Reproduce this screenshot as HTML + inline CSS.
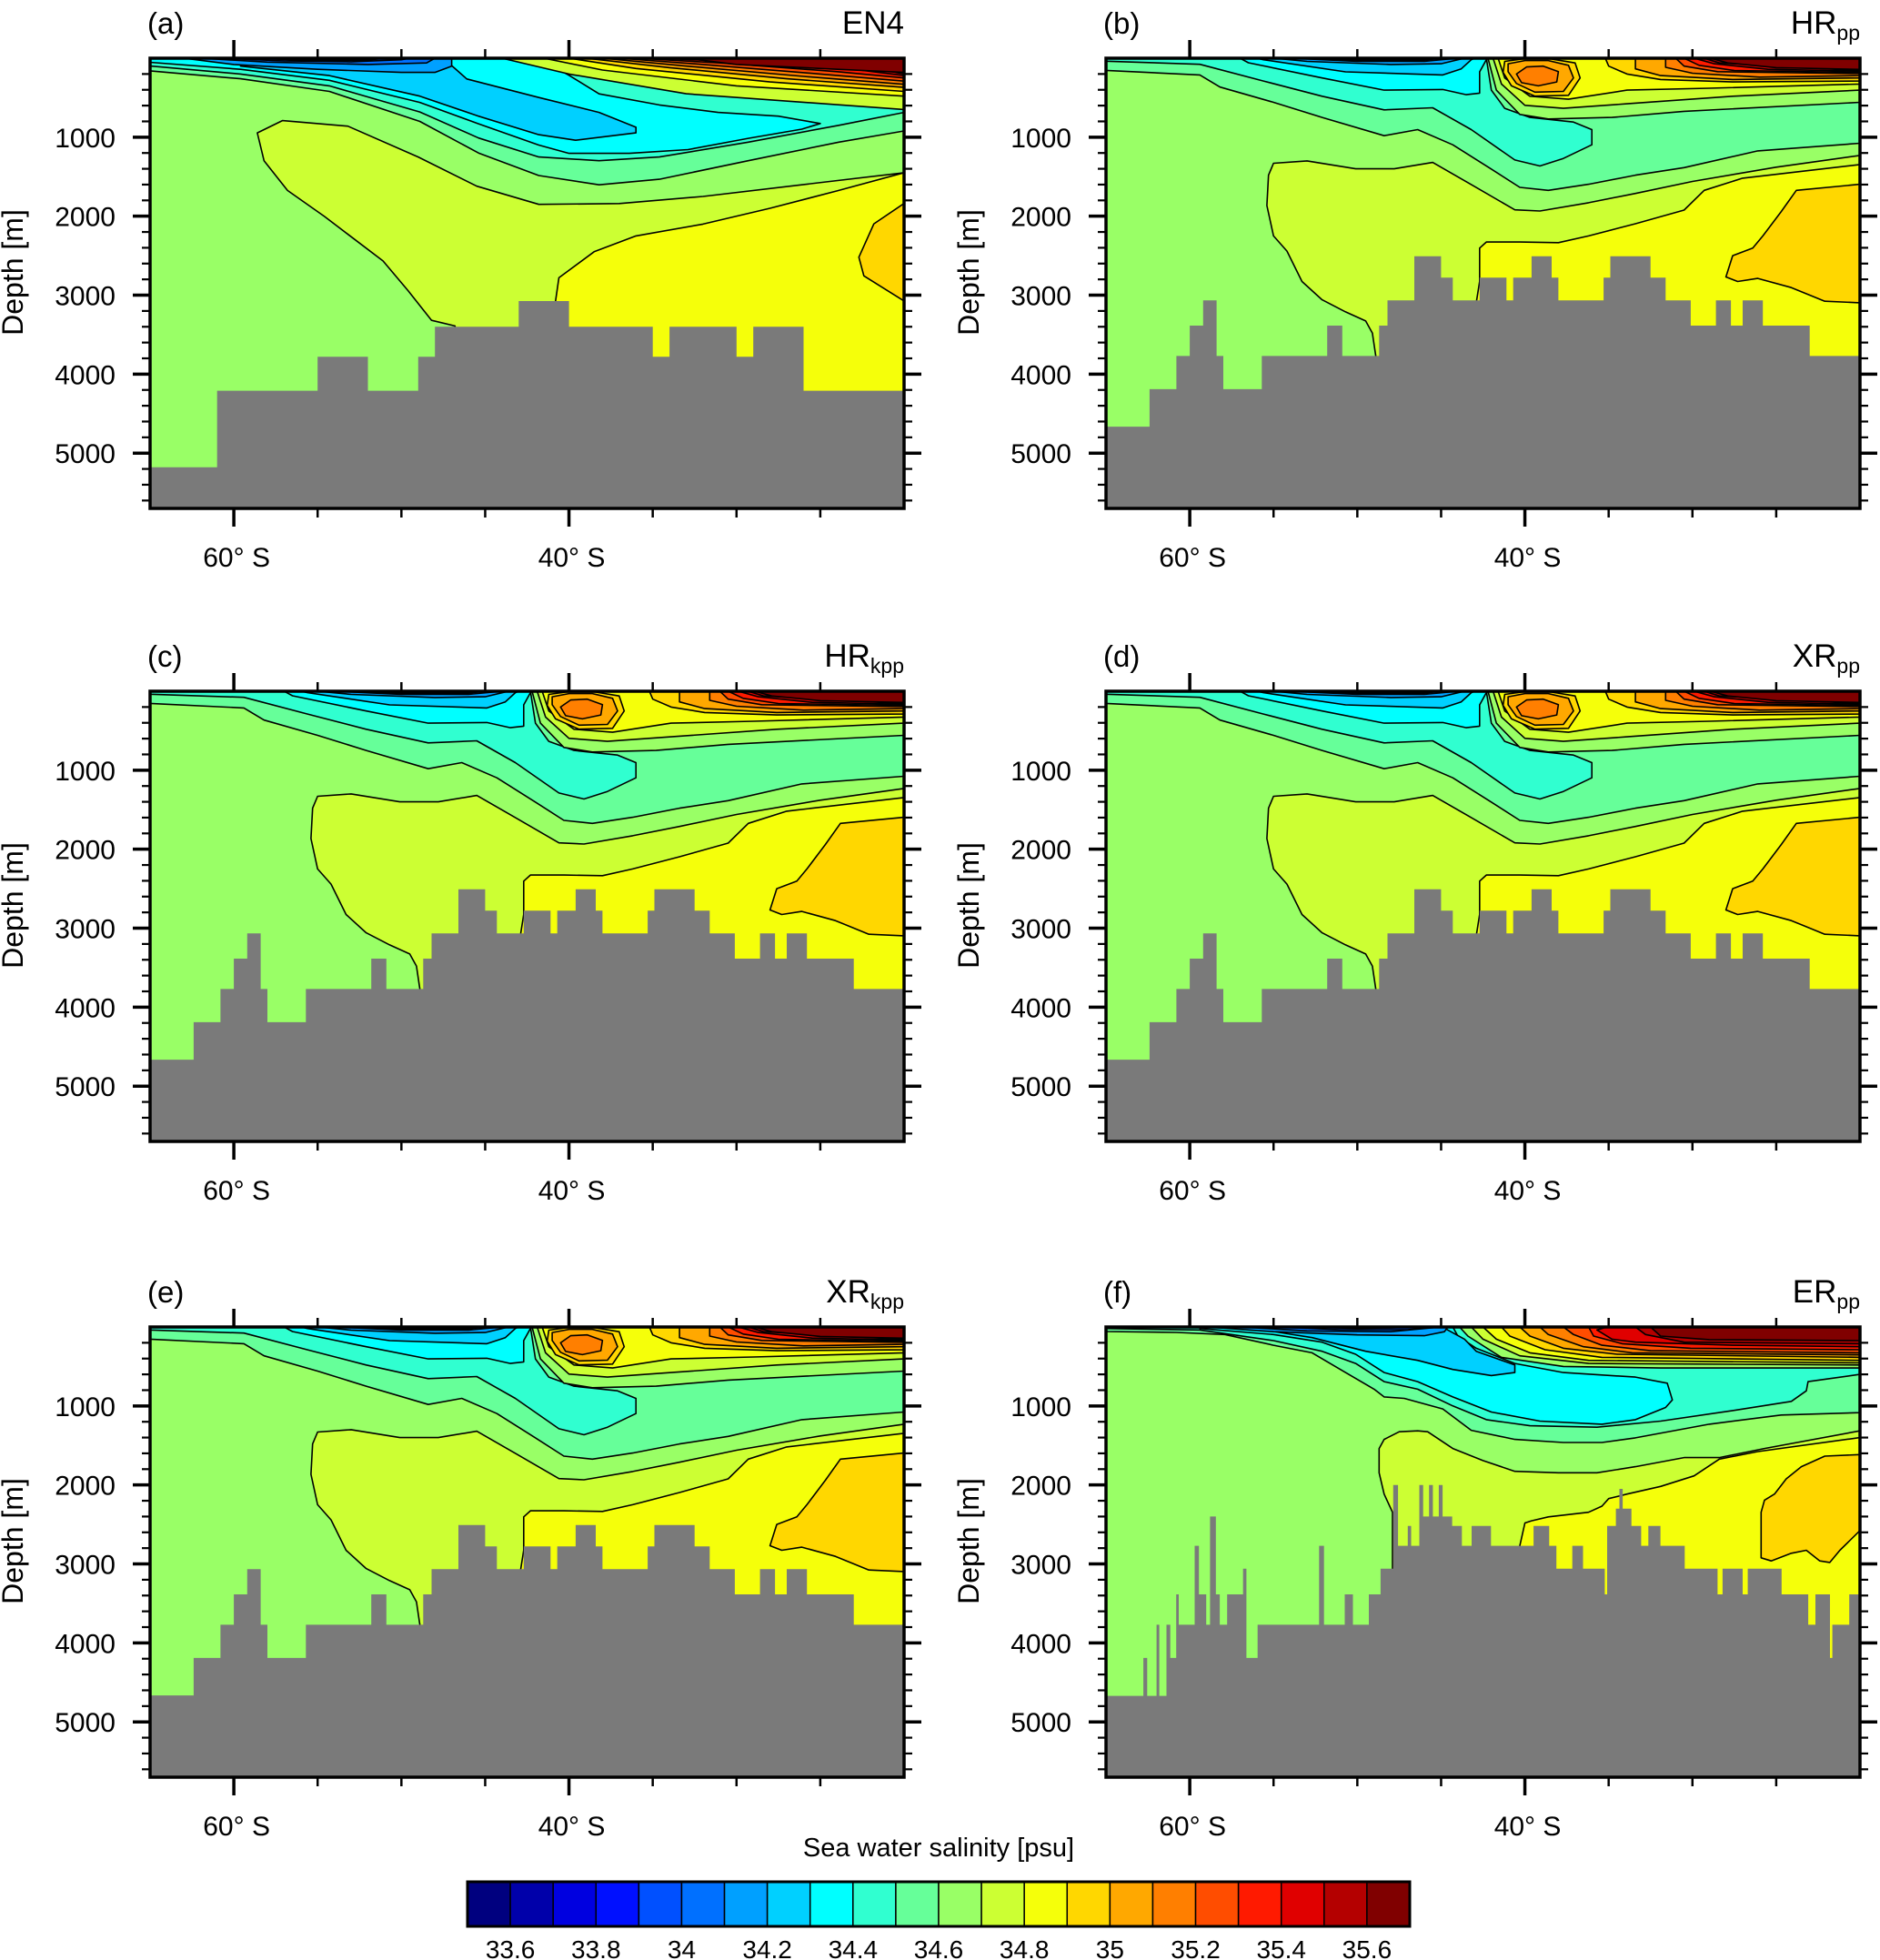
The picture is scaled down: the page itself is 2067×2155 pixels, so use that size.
<!DOCTYPE html>
<html><head><meta charset="utf-8"><title>Sea water salinity sections</title>
<style>
html,body{margin:0;padding:0;background:#fff;}
svg{display:block;font-family:"Liberation Sans",Arial,sans-serif;}
</style></head>
<body>
<svg id="fig" width="2067" height="2155" viewBox="0 0 2067 2155" xmlns="http://www.w3.org/2000/svg">
<rect x="0" y="0" width="2067" height="2155" fill="#ffffff"/>
</svg>
<script>
// ---- colour levels (colorbar) ----
const palette = ['#00007F','#0000AA','#0000E0','#0010FF','#0050FF','#0070FF','#00A0FF','#00D0FF','#00FFFF','#30FFD0','#66FF99','#99FF66','#CCFF33','#F5FF0A','#FFD700','#FFA800','#FF7F00','#FF4D00','#FF1A00','#E00000','#B40000','#800000'];
const levelLabels = ['33.6','33.8','34','34.2','34.4','34.6','34.8','35','35.2','35.4','35.6'];
const depthTicks = [1000,2000,3000,4000,5000];
const latLabelTicks = [60,40];
const latTicks = [60,55,50,45,40,35,30,25];

// ---- bathymetry (lat edges in deg S, depth in m) ----
const en4BathyEdges = [65,61,55,52,49,48,43,40,35,34,30,29,26,20];
const en4BathyDepth = [5180,4210,3780,4210,3780,3400,3075,3400,3780,3400,3780,3400,4210];
const hrBathyEdges = [65,62.4,60.8,60,59.2,58.4,58,55.7,51.8,50.9,48.7,48.2,46.6,45,44.3,42.7,41.1,40.7,39.6,38.4,38,35.3,34.9,32.5,31.6,30.1,28.6,27.7,27,25.8,23,20];
const hrBathyDepth = [4665,4190,3770,3385,3065,3770,4190,3770,3385,3770,3385,3065,2508,2777,3065,2777,3065,2777,2508,2777,3065,2777,2508,2777,3065,3385,3065,3385,3065,3385,3770];
const erBathyEdges = [65,62.77,62.54,61.98,61.82,61.39,61.16,60.81,60.66,59.71,59.45,59.02,58.79,58.44,58.21,57.77,56.82,56.62,55.95,52.28,51.99,50.75,50.26,49.31,48.61,47.86,47.57,46.99,46.79,46.30,46.07,45.72,45.49,45.14,44.91,44.34,43.76,43.18,42.02,40.87,39.48,38.55,38.12,37.17,36.53,35.23,35.09,34.57,34.36,34.16,33.64,33.06,32.63,31.91,30.46,30.03,28.5,28.2,27.0,26.7,25.84,24.68,23.09,22.66,21.79,21.65,20.64,20];
const erBathyDepth = [4670,4190,4670,3770,4670,3770,4190,3385,3770,2770,3385,3770,2400,3385,3770,3385,3060,4190,3770,2770,3770,3385,3770,3385,3060,2000,2770,2520,2770,2000,2400,2000,2400,2000,2400,2520,2770,2520,2770,2770,2520,2770,3060,2770,3060,3385,2520,2300,2050,2300,2520,2770,2520,2770,3060,3060,3385,3060,3385,3060,3060,3385,3770,3385,4190,3770,3385];

// ---- salinity regions [lat S, depth m], c = colour level index ----
const en4Layers = [
 {c:12, pts:[[58.6,945],[57.1,790],[53.2,860],[49,1250],[45.5,1620],[41.8,1850],[37,1840],[32,1750],[26,1600],[20,1450],[20,5700],[46.8,5700],[46.8,3390],[48.2,3319],[49.6,2943],[51.1,2567],[54.6,2003],[56.8,1674],[58.2,1298]]},
 {c:13, pts:[[40.8,3075],[40.6,2780],[38.5,2450],[36,2250],[32,2100],[28,1900],[24,1680],[20,1450],[20,5700],[40.8,5700]]},
 {c:14, pts:[[20,1838],[21.8,2097],[22.7,2520],[22.4,2755],[20,3075]]},
 {c:10, pts:[[65,0],[65,160],[59.6,260],[54.3,420],[48.9,800],[45.4,1200],[41.8,1486],[38.2,1603],[34.6,1533],[29.3,1298],[23.9,1063],[20,921],[20,0]]},
 {c:9, pts:[[65,0],[65,99],[59.6,200],[54.3,350],[48.9,680],[45.4,1010],[41.8,1250],[38.2,1298],[34.6,1250],[29.3,1063],[23.9,850],[20,686],[20,0]]},
 {c:8, pts:[[65,0],[65,52],[59.6,140],[54.3,280],[48.9,560],[45.4,830],[41.8,1100],[40,1204],[36.4,1204],[32.9,1157],[29.3,1015],[26.1,898],[25,827],[27.5,733],[31.1,686],[34.6,592],[38.2,451],[40,216],[41.8,0]]},
 {c:7, pts:[[59.6,0],[59.6,100],[54.3,220],[48.9,480],[45.4,733],[41.8,968],[39.6,1039],[36,945],[36,874],[38.2,686],[41.8,498],[46.1,263],[47.5,0]]},
 {c:6, pts:[[63,0],[60,80],[55,140],[50,180],[48,180],[47,100],[47,0]]},
 {c:5, pts:[[62,0],[58,50],[52,80],[48.5,60],[48,0]]},
 {c:4, pts:[[61,0],[57,35],[53,45],[50,20],[49.5,0]]},
 {c:3, pts:[[59,0],[56,25],[52,25],[51,0]]},
 {c:2, pts:[[58,0],[55,12],[53,0]]},
 {c:12, pts:[[44,0],[40,200],[33,450],[20,650],[20,0]]},
 {c:13, pts:[[41.5,0],[38,150],[30,350],[20,480],[20,0]]},
 {c:14, pts:[[40,0],[36,130],[28,300],[20,420],[20,0]]},
 {c:15, pts:[[39,0],[34,120],[27,260],[20,370],[20,0]]},
 {c:16, pts:[[38,0],[33,100],[26,230],[20,330],[20,0]]},
 {c:17, pts:[[37,0],[32,80],[25,200],[20,290],[20,0]]},
 {c:18, pts:[[36,0],[31,60],[24,170],[20,250],[20,0]]},
 {c:19, pts:[[35,0],[30,40],[23,140],[20,220],[20,0]]},
 {c:20, pts:[[34,0],[29,25],[22,120],[20,200],[20,0]]},
 {c:21, pts:[[33,0],[30,80],[25,130],[20,180],[20,0]]}
];
const hrLayers = [
 {c:12, pts:[[48.9,3769],[49.1,3481],[49.5,3327],[50.7,3212],[52.1,3058],[53.3,2827],[54.2,2442],[55.0,2250],[55.4,1865],[55.3,1481],[55,1330],[53,1300],[50.1,1400],[47.8,1400],[45.5,1320],[43.2,1600],[40.6,1920],[39.1,1935],[36.2,1830],[33.4,1712],[30,1560],[25,1380],[20,1231],[20,5700],[48.9,5700]]},
 {c:13, pts:[[42.9,3096],[42.7,2827],[42.7,2404],[42.3,2327],[40.3,2327],[38.0,2335],[36.2,2250],[33.4,2096],[30.5,1923],[29.3,1673],[27.0,1519],[20,1346],[20,5700],[42.9,5700]]},
 {c:14, pts:[[20,1596],[23.8,1673],[24.7,1942],[25.8,2250],[26.4,2404],[27.6,2500],[28.0,2769],[27.3,2827],[26.1,2788],[24.1,2904],[22.1,3077],[20,3096]]},
 {c:10, pts:[[65,0],[65,154],[59.4,212],[58.2,365],[55,558],[52.1,750],[48.4,981],[46.4,904],[44.3,1096],[42,1404],[40.3,1635],[38.6,1673],[36.2,1596],[33.4,1481],[30.5,1385],[26.1,1173],[20,1077],[20,0]]},
 {c:9, pts:[[65,0],[42.3,0],[42,404],[41.2,635],[39.7,750],[37.1,808],[36,904],[36,1096],[37.7,1269],[39.1,1365],[40.6,1288],[43.2,904],[45.5,627],[48.4,654],[52.1,481],[55.6,289],[59.4,77],[65,38]]},
 {c:8, pts:[[57,0],[56.5,58],[52.1,250],[48.4,404],[44.9,396],[43.5,462],[42.7,442],[42.7,173],[42.3,19],[42.2,0]]},
 {c:7, pts:[[56,0],[55.6,19],[50.7,173],[44.9,212],[43.8,135],[43.2,19],[43.0,0]]},
 {c:6, pts:[[55,0],[53,40],[48,80],[45,70],[43.6,0]]},
 {c:5, pts:[[54,0],[50,40],[46,40],[44,0]]},
 {c:3, pts:[[53,0],[50,25],[46,25],[45,0]]},
 {c:1, pts:[[52,0],[49,15],[46,0]]},
 {c:11, pts:[[42.2,0],[41.7,404],[40.3,712],[38.6,769],[34.8,750],[30.5,673],[20,558],[20,0]]},
 {c:12, pts:[[41.9,0],[41.4,327],[40.0,596],[37.7,635],[33.9,577],[27.6,481],[20,404],[20,0]]},
 {c:13, pts:[[41.6,0],[41.2,250],[39.7,481],[37.4,519],[33.9,404],[29,380],[20,327],[20,0]]},
 {c:14, pts:[[41.2,40],[40.2,10],[38.4,10],[37.0,60],[36.7,250],[37.4,470],[39.4,480],[40.8,350],[41.3,180]]},
 {c:14, pts:[[35.2,0],[35.0,100],[33.9,200],[31.9,270],[27.6,300],[20,289],[20,0]]},
 {c:15, pts:[[41.0,70],[40.0,30],[38.6,30],[37.4,90],[37.1,250],[37.7,420],[39.4,430],[40.5,320],[41.0,170]]},
 {c:15, pts:[[33.4,0],[33.4,135],[31.9,220],[27.6,270],[20,250],[20,0]]},
 {c:16, pts:[[40.5,200],[39.9,110],[38.9,100],[38.0,170],[38.1,300],[39.2,350],[40.2,310]]},
 {c:16, pts:[[31.6,0],[31.6,115],[30.0,190],[26,240],[20,220],[20,0]]},
 {c:17, pts:[[31.0,0],[30.5,100],[28.5,170],[20,196],[20,0]]},
 {c:18, pts:[[30.5,0],[29.6,90],[27.5,155],[20,180],[20,0]]},
 {c:19, pts:[[29.9,0],[28.7,70],[25.5,140],[20,165],[20,0]]},
 {c:20, pts:[[29.3,0],[28.4,60],[20,158],[20,0]]},
 {c:21, pts:[[28.9,0],[27.9,60],[25,120],[20,142],[20,0]]}
];
const erLayers = [
 {c:12, pts:[[47.9,2346],[48.4,2115],[48.7,1846],[48.7,1538],[48.4,1423],[47.5,1327],[46.4,1315],[45.8,1327],[44.3,1538],[42.5,1692],[40.6,1827],[38,1846],[35.7,1846],[33.4,1769],[30.5,1654],[28.4,1654],[25.7,1538],[20,1315],[20,5700],[47.9,5700]]},
 {c:13, pts:[[40.3,2769],[40.0,2481],[39.6,2454],[38.6,2404],[36.2,2346],[35.4,2269],[35,2173],[33.9,2115],[31.9,2019],[29.9,1885],[28.4,1673],[26.1,1577],[20,1400],[20,5700],[40.3,5700]]},
 {c:14, pts:[[20,1615],[22.1,1635],[23.5,1769],[24.4,1923],[25.1,2115],[25.7,2192],[25.9,2346],[25.9,2923],[25.3,2962],[24.1,2865],[23.2,2827],[22.4,2962],[21.8,2981],[21.2,2827],[20,2577]]},
 {c:10, pts:[[65,0],[65,58],[60.8,69],[57.9,96],[55,231],[52.7,327],[50.7,577],[49,788],[48.4,885],[47.2,904],[44.9,1038],[43.2,1308],[40.6,1423],[37.7,1462],[35.4,1462],[33.4,1404],[29,1231],[24.7,1115],[20,1085],[20,0]]},
 {c:9, pts:[[65,0],[65,19],[59.4,38],[55,173],[52.1,308],[50.1,462],[48.4,692],[46.4,788],[44.3,1000],[42.3,1173],[39.7,1250],[35.7,1269],[31.9,1192],[27.6,1058],[24.1,942],[23.2,808],[23.1,692],[20,600],[20,0]]},
 {c:8, pts:[[59.4,0],[59.4,19],[55,96],[52.1,192],[50.1,346],[48.4,577],[46.4,692],[44.3,885],[42,1077],[39.1,1192],[35.4,1231],[33.4,1173],[31.6,1019],[31.2,923],[31.5,712],[33.4,635],[37.7,577],[40.6,462],[42.9,269],[44.0,115],[44.3,0]]},
 {c:7, pts:[[56,0],[55,58],[52.7,135],[49.5,308],[46.4,423],[44.3,538],[42,615],[40.6,577],[40.6,481],[42.9,308],[43.6,154],[44.6,38],[44.9,0]]},
 {c:6, pts:[[59,0],[55,60],[50,100],[46,110],[44.8,60],[44.6,0]]},
 {c:5, pts:[[57,0],[53,50],[48,60],[45,0]]},
 {c:4, pts:[[55,0],[51,35],[47,35],[45.3,0]]},
 {c:3, pts:[[53,0],[50,20],[46,0]]},
 {c:1, pts:[[51,0],[48,12],[46.5,0]]},
 {c:11, pts:[[43.9,0],[43.4,115],[41.4,385],[37.7,500],[31.9,519],[20,519],[20,0]]},
 {c:12, pts:[[43.2,0],[42.5,154],[40.3,365],[36.2,462],[20,481],[20,0]]},
 {c:13, pts:[[42.5,0],[41.7,154],[39.7,327],[36.2,423],[20,454],[20,0]]},
 {c:14, pts:[[41.4,0],[40.9,115],[38.8,288],[35.4,385],[20,423],[20,0]]},
 {c:15, pts:[[40.3,0],[39.7,115],[37.7,269],[34.5,346],[20,385],[20,0]]},
 {c:16, pts:[[39.1,0],[38.6,96],[36.5,250],[33.6,327],[20,354],[20,0]]},
 {c:17, pts:[[37.7,0],[37.1,96],[35.4,231],[32.5,300],[20,327],[20,0]]},
 {c:18, pts:[[36.2,0],[35.9,115],[34.2,212],[30.1,269],[20,288],[20,0]]},
 {c:19, pts:[[35.1,0],[35.7,38],[34.8,154],[33.4,192],[27.6,231],[20,250],[20,0]]},
 {c:20, pts:[[33.4,0],[32.8,96],[30.5,192],[20,212],[20,0]]},
 {c:21, pts:[[32.5,0],[31.9,115],[29,160],[20,173],[20,0]]}
];

// ---- layout ----
const LAT_W = 65, LAT_E = 20, DMAX = 5700, PW = 829, PH = 495;
const panels = [
 {id:'a', x:165,  y:64,   layers:en4Layers, edges:en4BathyEdges, depth:en4BathyDepth, name:'EN4', sub:''},
 {id:'b', x:1216, y:64,   layers:hrLayers,  edges:hrBathyEdges,  depth:hrBathyDepth,  name:'HR',  sub:'pp'},
 {id:'c', x:165,  y:760,  layers:hrLayers,  edges:hrBathyEdges,  depth:hrBathyDepth,  name:'HR',  sub:'kpp'},
 {id:'d', x:1216, y:760,  layers:hrLayers,  edges:hrBathyEdges,  depth:hrBathyDepth,  name:'XR',  sub:'pp'},
 {id:'e', x:165,  y:1459, layers:hrLayers,  edges:hrBathyEdges,  depth:hrBathyDepth,  name:'XR',  sub:'kpp'},
 {id:'f', x:1216, y:1459, layers:erLayers,  edges:erBathyEdges,  depth:erBathyDepth,  name:'ER',  sub:'pp'}
];

const NS = 'http://www.w3.org/2000/svg';
const svg = document.getElementById('fig');
function mk(tag, attrs, parent){
  const el = document.createElementNS(NS, tag);
  for (const k in attrs) el.setAttribute(k, attrs[k]);
  parent.appendChild(el);
  return el;
}
const defs = mk('defs', {}, svg);

panels.forEach(p => {
  const xs = s => p.x + (LAT_W - s) / (LAT_W - LAT_E) * PW;
  const ys = d => p.y + d / DMAX * PH;
  const g = mk('g', {}, svg);
  
  

  const cp = mk('clipPath', {id:'clip-' + p.id}, defs);
  mk('rect', {x:p.x, y:p.y, width:PW, height:PH}, cp);
  const plot = mk('g', {'clip-path':'url(#clip-' + p.id + ')'}, g);
  
  

  const base = mk('rect', {x:p.x, y:p.y, width:PW, height:PH, fill:palette[11]}, plot);
  
  

  p.layers.forEach(L => {
    const d = 'M' + L.pts.map(q => xs(q[0]).toFixed(1) + ',' + ys(q[1]).toFixed(1)).join('L') + 'Z';
    const path = mk('path', {d:d, fill:palette[L.c], stroke:'#000', 'stroke-width':1.6, 'stroke-linejoin':'round'}, plot);
    
    
  });

  let bd = 'M' + xs(p.edges[0]) + ',' + ys(DMAX);
  for (let i = 0; i < p.depth.length; i++) {
    bd += 'L' + xs(p.edges[i]).toFixed(1) + ',' + ys(p.depth[i]).toFixed(1);
    bd += 'L' + xs(p.edges[i+1]).toFixed(1) + ',' + ys(p.depth[i]).toFixed(1);
  }
  bd += 'L' + xs(p.edges[p.edges.length-1]) + ',' + ys(DMAX) + 'Z';
  const bathy = mk('path', {d:bd, fill:'#7a7a7a'}, plot);
  
  

  const frame = mk('rect', {x:p.x, y:p.y, width:PW, height:PH, fill:'none', stroke:'#000', 'stroke-width':3.5}, g);
  
  

  latTicks.forEach(t => {
    const major = latLabelTicks.includes(t);
    const len = major ? 20 : 10;
    const x = xs(t);
    const t1 = mk('line', {x1:x, x2:x, y1:p.y, y2:p.y - len, stroke:'#000', 'stroke-width':major ? 3.5 : 2.5}, g);
    
    
    const t2 = mk('line', {x1:x, x2:x, y1:p.y + PH, y2:p.y + PH + len, stroke:'#000', 'stroke-width':major ? 3.5 : 2.5}, g);
    
    
  });
  latLabelTicks.forEach(t => {
    const lbl = mk('text', {x:xs(t) + 3, y:p.y + PH + 64, 'font-size':30, 'text-anchor':'middle', fill:'#000'}, g);
    lbl.textContent = t + '\u00B0 S';
    
    
  });
  for (let d = 200; d < DMAX; d += 200) {
    const major = d % 1000 === 0;
    const len = major ? 19 : 9;
    const y = ys(d);
    const a = mk('line', {x1:p.x, x2:p.x - len, y1:y, y2:y, stroke:'#000', 'stroke-width':major ? 3.5 : 2.2}, g);
    
    
    const b = mk('line', {x1:p.x + PW, x2:p.x + PW + len, y1:y, y2:y, stroke:'#000', 'stroke-width':major ? 3.5 : 2.2}, g);
    
    
  }
  depthTicks.forEach(d => {
    const lbl = mk('text', {x:p.x - 38, y:ys(d) + 11, 'font-size':30, 'text-anchor':'end', fill:'#000'}, g);
    lbl.textContent = d;
    
    
  });
  const yt = mk('text', {x:0, y:0, 'font-size':32, 'text-anchor':'middle', fill:'#000', transform:'translate(' + (p.x - 140) + ',' + (p.y + PH/2 - 12) + ') rotate(-90)'}, g);
  yt.textContent = 'Depth [m]';
  
  

  const pl = mk('text', {x:p.x - 3, y:p.y - 27, 'font-size':33, fill:'#000'}, g);
  pl.textContent = '(' + p.id + ')';
  
  

  const tt = mk('text', {x:p.x + PW, y:p.y - 27, 'font-size':35, 'text-anchor':'end', fill:'#000'}, g);
  
  
  const ts1 = mk('tspan', {}, tt);
  ts1.textContent = p.name;
  if (p.sub) {
    const ts2 = mk('tspan', {'font-size':23, dy:7}, tt);
    ts2.textContent = p.sub;
  }
});

// ---- colorbar ----
const cb = mk('g', {}, svg);


const CBX = 514, CBY = 2069, CBW = 1036, CBH = 49;
const bw = CBW / palette.length;
palette.forEach((col, i) => {
  const r = mk('rect', {x:CBX + i*bw, y:CBY, width:bw, height:CBH, fill:col, stroke:'#000', 'stroke-width':1.5}, cb);
  
  
});
const cbf = mk('rect', {x:CBX, y:CBY, width:CBW, height:CBH, fill:'none', stroke:'#000', 'stroke-width':3}, cb);


levelLabels.forEach((lab, j) => {
  const t = mk('text', {x:CBX + (1 + 2*j)*bw, y:2153, 'font-size':28, 'text-anchor':'middle', fill:'#000'}, cb);
  t.textContent = lab;
  
  
});
const cbt = mk('text', {x:1032, y:2041, 'font-size':29, 'text-anchor':'middle', fill:'#000'}, cb);
cbt.textContent = 'Sea water salinity [psu]';


</script>
</body></html>
